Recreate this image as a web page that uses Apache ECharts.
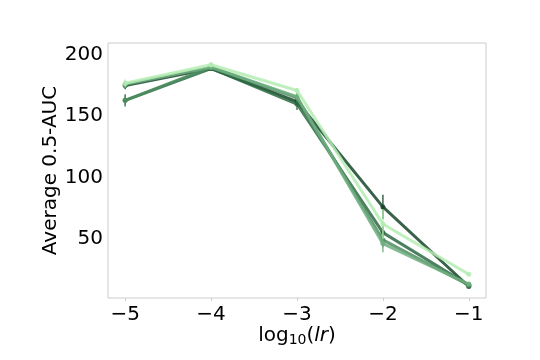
<!DOCTYPE html>
<html>
<head>
<meta charset="utf-8">
<script src="https://cdn.jsdelivr.net/npm/echarts@6/dist/echarts.min.js"></script>
<style>
  html, body { margin: 0; padding: 0; background: #fff; }
  #main { width: 540px; height: 360px; }
</style>
</head>
<body>
<div id="main"></div>
<script>
// log10 learning rates
var lrList = [-5, -4, -3, -2, -1];
// average 0.5-AUC per run, darkest to lightest
var run1 = [175, 189, 162, 76, 11];
var run2 = [163, 189, 160, 55, 12];
var run3 = [163, 190, 165, 49, 12];
var run4 = [176, 190, 166, 46, 13];
var run5 = [177, 192, 171, 62, 21];
// error bar half widths
var err1 = [3, 2, 3, 10, 1];
var err2 = [5, 2, 5, 8, 1];
var err3 = [4, 2, 3, 6, 1];
var err4 = [3, 2, 3, 7, 1];
var err5 = [3, 2, 2, 12, 1];
var xTicks = [-5, -4, -3, -2, -1];
var yTicks = [50, 100, 150, 200];

var colors = ['#17472b', '#2d6a42', '#4d8d60', '#6fae80', '#b3ecb2'];
var runs = [run1, run2, run3, run4, run5];
var errs = [err1, err2, err3, err4, err5];

var chart = echarts.init(document.getElementById('main'));

var series = [];
runs.forEach(function (run, i) {
  var pts = lrList.map(function (x, j) { return [x, run[j]]; });
  series.push({
    type: 'line',
    data: pts,
    symbol: 'circle',
    symbolSize: 5,
    lineStyle: { color: colors[i], width: 3, opacity: 0.85 },
    itemStyle: { color: colors[i], opacity: 0.85 },
    z: 3 + i,
    animation: false
  });
  // error bars
  series.push({
    type: 'custom',
    data: lrList.map(function (x, j) { return [x, run[j] - errs[i][j], run[j] + errs[i][j]]; }),
    renderItem: function (params, api) {
      var lo = api.coord([api.value(0), api.value(1)]);
      var hi = api.coord([api.value(0), api.value(2)]);
      return {
        type: 'line',
        shape: { x1: lo[0], y1: lo[1], x2: hi[0], y2: hi[1] },
        style: { stroke: colors[i], lineWidth: 1.5, opacity: 0.85 }
      };
    },
    z: 3 + i,
    animation: false
  });
});

var minus = function (v) { return String(v).replace('-', '\u2212'); };

chart.setOption({
  animation: false,
  grid: { left: 108, right: 54, top: 43, bottom: 62, show: true, borderColor: '#cccccc', borderWidth: 1 },
  xAxis: {
    type: 'value',
    min: -5.2,
    max: -0.8,
    name: '{n|log}{s|10}{n|(}{i|lr}{n|)}',
    nameLocation: 'middle',
    nameGap: 27,
    nameMoveOverlap: false,
    nameTextStyle: {
      verticalAlign: 'top',
      rich: {
        n: { fontFamily: 'DejaVu Sans', fontSize: 20, color: '#000' },
        s: { fontFamily: 'DejaVu Sans', fontSize: 14, color: '#000', padding: [8, 0, 0, 0] },
        i: { fontFamily: 'DejaVu Sans', fontStyle: 'italic', fontSize: 20, color: '#000' }
      }
    },
    axisLine: { show: false },
    axisTick: { show: true, customValues: xTicks, length: 3, lineStyle: { color: '#cccccc' } },
    splitLine: { show: false },
    axisLabel: {
      customValues: xTicks,
      formatter: minus,
      fontFamily: 'DejaVu Sans',
      fontSize: 20,
      color: '#000',
      margin: 7
    }
  },
  yAxis: {
    type: 'value',
    min: 1.6,
    max: 209.8,
    name: 'Average 0.5-AUC',
    nameLocation: 'middle',
    nameGap: 47,
    nameMoveOverlap: false,
    nameTextStyle: { fontFamily: 'DejaVu Sans', fontSize: 20, color: '#000' },
    axisLine: { show: false },
    axisTick: { show: false },
    splitLine: { show: false },
    axisLabel: {
      customValues: yTicks,
      fontFamily: 'DejaVu Sans',
      fontSize: 20,
      color: '#000',
      margin: 5
    }
  },
  series: series
});
</script>
</body>
</html>
